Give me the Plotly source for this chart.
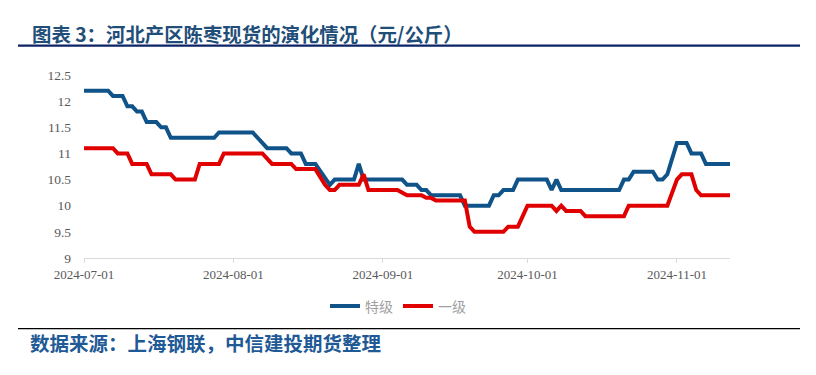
import datetime as dt
import plotly.graph_objects as go

# ---- data ----
start = dt.date(2024, 7, 1)

tj_days = [0, 5, 6, 8, 9, 10, 11, 12, 13, 15, 16, 17, 18, 27, 28, 35, 38, 42, 43, 45,
           46, 48, 51, 52, 56, 57, 58, 66, 67, 69, 70, 71, 72, 78, 79, 84, 85, 86, 87, 89,
           90, 96, 97, 98, 99, 111, 112, 113, 114, 118, 119, 120, 121, 122, 123, 125, 126,
           128, 129, 134]
tj_vals = [12.2, 12.2, 12.1, 12.1, 11.9, 11.9, 11.8, 11.8, 11.6, 11.6, 11.5, 11.5, 11.3, 11.3,
           11.4, 11.4, 11.1, 11.1, 11.0, 11.0, 10.8, 10.8, 10.4, 10.5, 10.5, 10.8, 10.5, 10.5,
           10.4, 10.4, 10.3, 10.3, 10.2, 10.2, 10.0, 10.0, 10.2, 10.2, 10.3, 10.3, 10.5, 10.5,
           10.3, 10.5, 10.3, 10.3, 10.5, 10.5, 10.65, 10.65, 10.5, 10.5, 10.6, 10.9, 11.2, 11.2,
           11.0, 11.0, 10.8, 10.8]

yj_days = [0, 6, 7, 9, 10, 13, 14, 18, 19, 23, 24, 28, 29, 37, 39, 43, 44, 48, 50, 51, 52,
           53, 57, 58, 59, 65, 67, 70, 71, 72, 73, 79, 80, 81, 87, 88, 90, 92, 97, 98, 99, 100,
           103, 104, 112, 113, 121, 123, 124, 126, 127, 128, 134]
yj_vals = [11.1, 11.1, 11.0, 11.0, 10.8, 10.8, 10.6, 10.6, 10.5, 10.5, 10.8, 10.8, 11.0, 11.0,
           10.8, 10.8, 10.7, 10.7, 10.4, 10.3, 10.3, 10.4, 10.4, 10.6, 10.3, 10.3, 10.2, 10.2,
           10.15, 10.15, 10.1, 10.1, 9.6, 9.5, 9.5, 9.6, 9.6, 10.0, 10.0, 9.9, 10.0, 9.9, 9.9,
           9.8, 9.8, 10.0, 10.0, 10.5, 10.6, 10.6, 10.3, 10.2, 10.2]

tj_dates = [(start + dt.timedelta(days=d)).isoformat() for d in tj_days]
yj_dates = [(start + dt.timedelta(days=d)).isoformat() for d in yj_days]

series_names = ["特级", "一级"]
x_range = ["2024-07-01", "2024-11-12"]
y_ticks = [9, 9.5, 10, 10.5, 11, 11.5, 12, 12.5]
y_ticktext = ["9", "9.5", "10", "10.5", "11", "11.5", "12", "12.5"]

title_text = "图表 3：河北产区陈枣现货的演化情况（元/公斤）"
source_text = "数据来源：上海钢联，中信建投期货整理"

# ---- layout geometry (pixels) ----
W, H = 816, 375
PL, PR, PT, PB = 84, 730, 74.5, 258.3


def px_x(x):
    return (x - PL) / (PR - PL)


def px_y(y):
    return (PB - y) / (PB - PT)


fig = go.Figure()
fig.add_trace(go.Scatter(x=tj_dates, y=tj_vals, mode="lines", name=series_names[0],
                         line=dict(color="#0F5389", width=4)))
fig.add_trace(go.Scatter(x=yj_dates, y=yj_vals, mode="lines", name=series_names[1],
                         line=dict(color="#E00000", width=4)))

fig.update_layout(
    width=W, height=H,
    margin=dict(l=PL, r=W - PR, t=PT, b=H - PB, pad=0),
    paper_bgcolor="white", plot_bgcolor="white",
    showlegend=True,
    legend=dict(orientation="h", x=px_x(398), xanchor="center", y=px_y(307), yanchor="middle",
                font=dict(family="Noto Sans CJK SC", size=14, color="#A0A0A0"),
                itemwidth=30, tracegroupgap=0, bgcolor="rgba(0,0,0,0)"),
    xaxis=dict(type="date", range=x_range, dtick="M1", tick0="2024-07-01",
               tickformat="%Y-%m-%d", showgrid=False, zeroline=False,
               showline=True, linecolor="#D9D9D9", linewidth=1,
               ticks="outside", ticklen=4, tickcolor="#D9D9D9",
               tickfont=dict(family="Liberation Serif", size=13, color="#595959")),
    yaxis=dict(range=[9, 12.5], tickvals=y_ticks, ticktext=y_ticktext, showgrid=False,
               zeroline=False, showline=False, ticks="", ticklabelstandoff=12,
               tickfont=dict(family="Liberation Serif", size=13.5, color="#595959")),
)

# title, rules and source note
fig.add_annotation(text=title_text, xref="paper", yref="paper", x=px_x(30), y=px_y(32.5),
                   xanchor="left", yanchor="middle", showarrow=False,
                   font=dict(family="Noto Sans CJK SC", size=19.4, color="#1F4E79", weight="bold"))
fig.add_shape(type="line", xref="paper", yref="paper", x0=px_x(18), x1=px_x(800),
              y0=px_y(45), y1=px_y(45), line=dict(color="#0C2366", width=2.2))
fig.add_shape(type="line", xref="paper", yref="paper", x0=px_x(18), x1=px_x(800),
              y0=px_y(329.3), y1=px_y(329.3), line=dict(color="#000000", width=1.3))
fig.add_annotation(text=source_text, xref="paper", yref="paper", x=px_x(28), y=px_y(343.5),
                   xanchor="left", yanchor="middle", showarrow=False,
                   font=dict(family="Noto Sans CJK SC", size=19.5, color="#1F5A96", weight="bold"))

fig.write_html("out.html", config={"displayModeBar": False},
               post_script="document.body.style.margin='0';document.body.style.overflow='hidden';")
